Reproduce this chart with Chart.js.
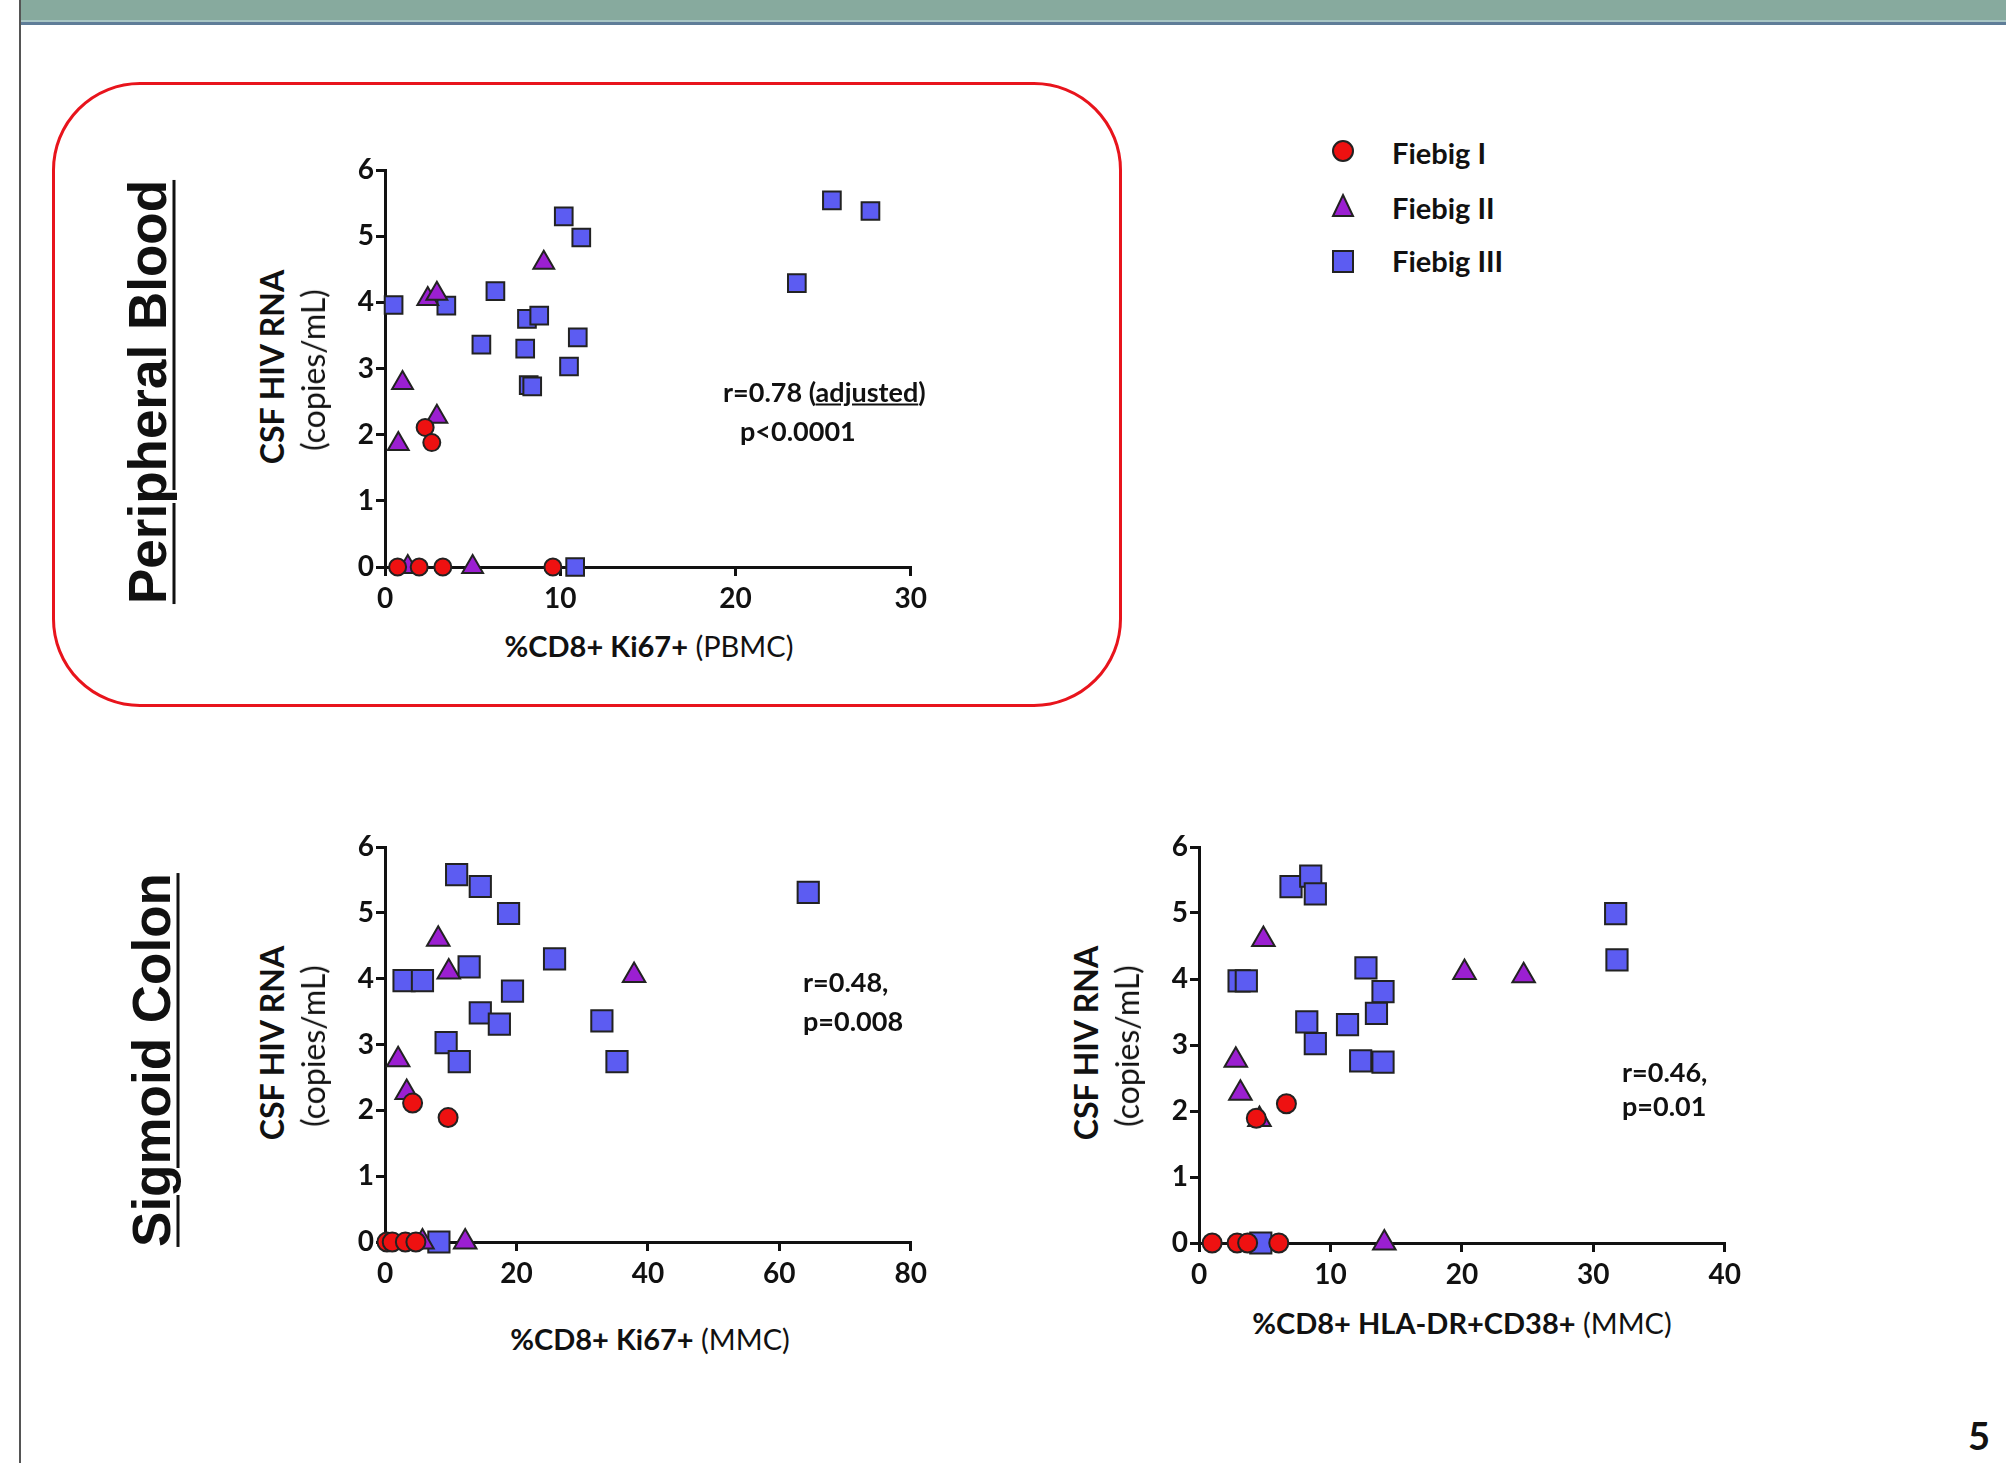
<!DOCTYPE html>
<html>
<head>
<meta charset="utf-8">
<script src="https://cdn.jsdelivr.net/npm/chart.js@4.4.0/dist/chart.umd.min.js"></script>
<style>
  html, body { margin: 0; padding: 0; background: #fff; }
  body { width: 2006px; height: 1463px; position: relative; overflow: hidden; font-family: Lato, 'Open Sans', sans-serif; color: #111; }
  .abs { position: absolute; white-space: nowrap; line-height: 1; }
  .ctr { transform: translate(-50%, -50%); }
  .rot { transform: translate(-50%, -50%) rotate(-90deg); }
  .left { transform: translateY(-50%); }
  canvas { position: absolute; }
  #header { position: absolute; left: 20px; top: 0; width: 1986px; height: 20px; background: #87aa9e; }
  #header2 { position: absolute; left: 20px; top: 20px; width: 1986px; height: 2px; background: #a8c6c4; }
  #header3 { position: absolute; left: 20px; top: 22px; width: 1986px; height: 3px; background: #5f7d98; }
  #border { position: absolute; left: 19px; top: 0; width: 2px; height: 1463px; background: #555; }
  #redbox { position: absolute; left: 52px; top: 82px; width: 1064px; height: 619px; border: 3px solid #e8141c; border-radius: 88px; }
  .section { font-family: 'Liberation Sans', Arial, sans-serif; font-weight: bold; font-size: 53px; text-decoration: underline; text-underline-offset: 7px; text-decoration-thickness: 3px; }
  .ytitle { font-size: 32px; font-weight: bold; }
  .ycopies { font-size: 32px; font-weight: normal; }
  .xtitle { font-size: 29px; }
  .note { font-size: 27px; font-weight: bold; }
  .leg { font-size: 29px; font-weight: bold; }
</style>
</head>
<body>
<div id="header"></div>
<div id="header2"></div>
<div id="header3"></div>
<div id="border"></div>
<div id="redbox"></div>

<div class="abs rot section" style="left:147px; top:392px;">Peripheral Blood</div>
<div class="abs rot section" style="left:151px; top:1060px;">Sigmoid Colon</div>

<canvas id="cPB" width="608" height="462" style="left:325px; top:150px;"></canvas>
<canvas id="cKi" width="608" height="460" style="left:325px; top:827px;"></canvas>
<canvas id="cHla" width="608" height="461" style="left:1139px; top:827px;"></canvas>

<!-- axis titles -->
<div class="abs rot ytitle" style="left:272px; top:367px;">CSF HIV RNA</div>
<div class="abs rot ycopies" style="left:313px; top:370px;">(copies/mL)</div>
<div class="abs ctr xtitle" style="left:649px; top:645px;"><b>%CD8+ Ki67+</b> (PBMC)</div>

<div class="abs rot ytitle" style="left:272px; top:1043px;">CSF HIV RNA</div>
<div class="abs rot ycopies" style="left:313px; top:1046px;">(copies/mL)</div>
<div class="abs ctr xtitle" style="left:650px; top:1338px;"><b>%CD8+ Ki67+</b> (MMC)</div>

<div class="abs rot ytitle" style="left:1086px; top:1043px;">CSF HIV RNA</div>
<div class="abs rot ycopies" style="left:1127px; top:1046px;">(copies/mL)</div>
<div class="abs ctr xtitle" style="left:1462px; top:1322px;"><b>%CD8+ HLA-DR+CD38+</b> (MMC)</div>

<!-- stats -->
<div class="abs left note" style="left:723px; top:391px;">r=0.78 (<u>adjusted</u>)</div>
<div class="abs left note" style="left:740px; top:430px;">p&lt;0.0001</div>
<div class="abs left note" style="left:803px; top:981px;">r=0.48,</div>
<div class="abs left note" style="left:803px; top:1020px;">p=0.008</div>
<div class="abs left note" style="left:1622px; top:1071px;">r=0.46,</div>
<div class="abs left note" style="left:1622px; top:1105px;">p=0.01</div>

<!-- legend -->
<svg class="abs" style="left:1323px; top:131px;" width="40" height="150">
  <circle cx="20" cy="20" r="10" fill="#ee1111" stroke="#222" stroke-width="2"/>
  <polygon points="20,64 30,85 10,85" fill="#9b1fd1" stroke="#222" stroke-width="2"/>
  <rect x="10" y="120" width="20" height="21" fill="#5c5cf2" stroke="#222" stroke-width="2"/>
</svg>
<div class="abs left leg" style="left:1392px; top:152px;">Fiebig I</div>
<div class="abs left leg" style="left:1392px; top:207px;">Fiebig II</div>
<div class="abs left leg" style="left:1392px; top:260px;">Fiebig III</div>

<div class="abs ctr" style="left:1979px; top:1435px; font-size:38px; font-weight:bold;">5</div>

<script>
// tick labels
const yTicks = [0, 1, 2, 3, 4, 5, 6];
const pbXTicks = [0, 10, 20, 30];
const kiXTicks = [0, 20, 40, 60, 80];
const hlaXTicks = [0, 10, 20, 30, 40];

const groups = ['Fiebig I', 'Fiebig II', 'Fiebig III'];

// %CD8+ Ki67+ (PBMC) vs CSF HIV RNA, [x, y]
const pbFiebigI = [[0.72, 0], [1.95, 0], [3.3, 0], [9.58, 0], [2.29, 2.11], [2.67, 1.88]];
const pbFiebigII = [[0.76, 1.86], [1.0, 2.78], [2.44, 4.05], [2.96, 4.13], [2.96, 2.27], [9.06, 4.6], [5.0, 0], [1.3, 0]];
const pbFiebigIII = [[0.49, 3.96], [3.5, 3.95], [6.3, 4.17], [5.5, 3.36], [8.0, 3.3], [8.1, 3.75], [8.8, 3.8],
  [8.2, 2.75], [8.4, 2.73], [10.2, 5.3], [11.2, 4.98], [11.0, 3.47], [10.5, 3.03], [10.85, 0],
  [23.5, 4.29], [25.5, 5.54], [27.7, 5.38]];

// %CD8+ Ki67+ (MMC)
const kiFiebigI = [[4.2, 2.11], [9.6, 1.89], [0.3, 0], [1.1, 0], [3.1, 0], [4.7, 0]];
const kiFiebigII = [[8.1, 4.6], [9.7, 4.1], [37.9, 4.05], [2.0, 2.77], [3.3, 2.27], [5.7, 0], [12.2, 0]];
const kiFiebigIII = [[10.9, 5.58], [14.5, 5.4], [18.8, 4.99], [64.4, 5.31], [25.8, 4.3], [12.8, 4.18],
  [2.9, 3.97], [5.7, 3.97], [19.4, 3.81], [14.5, 3.48], [17.4, 3.31], [33.0, 3.36], [9.3, 3.03],
  [11.3, 2.74], [35.3, 2.74], [8.2, 0]];

// %CD8+ HLA-DR+CD38+ (MMC)
const hlaFiebigI = [[6.65, 2.11], [4.36, 1.89], [1.0, 0], [2.9, 0], [3.7, 0], [6.07, 0]];
const hlaFiebigII = [[4.9, 4.6], [20.2, 4.1], [24.7, 4.05], [2.8, 2.77], [3.15, 2.27], [4.6, 1.87], [14.1, 0]];
const hlaFiebigIII = [[7.0, 5.4], [8.5, 5.56], [8.85, 5.29], [31.7, 4.99], [31.8, 4.29], [12.7, 4.17],
  [3.05, 3.97], [3.6, 3.97], [14.0, 3.81], [13.5, 3.48], [8.2, 3.35], [11.3, 3.31], [8.85, 3.02],
  [12.3, 2.76], [14.0, 2.74], [4.7, 0]];

const fills = ['#ee1111', '#9b1fd1', '#5c5cf2'];
const shapes = ['circle', 'triangle', 'rect'];

Chart.defaults.font.family = 'Lato';
Chart.defaults.font.weight = 'bold';
Chart.defaults.font.size = 28;
Chart.defaults.color = '#111';

const toPts = arr => arr.map(p => ({x: p[0], y: p[1]}));

function axis(ticksArr, max, pad, fitFn) {
  return {
    type: 'linear', min: 0, max: max,
    afterBuildTicks: s => { s.ticks = ticksArr.map(v => ({value: v})); },
    afterFit: fitFn,
    grid: {display: true, drawOnChartArea: false, drawTicks: true, tickLength: 9, color: '#111', lineWidth: 3},
    border: {display: true, color: '#111', width: 3},
    ticks: {padding: pad, color: '#111', font: {size: 28, weight: 'bold'}}
  };
}

function makeChart(id, sets, xTicks, xMax, radii) {
  new Chart(document.getElementById(id), {
    type: 'scatter',
    data: {
      datasets: sets.map((s, i) => ({
        label: groups[i],
        data: toPts(s),
        pointStyle: shapes[i],
        pointRadius: radii[i],
        backgroundColor: fills[i],
        borderColor: '#222',
        borderWidth: 2,
        clip: false
      }))
    },
    options: {
      responsive: false,
      animation: false,
      devicePixelRatio: 1,
      layout: {padding: {top: 20, right: 20, left: 0, bottom: 0}},
      plugins: {legend: {display: false}, tooltip: {enabled: false}},
      scales: {
        x: axis(xTicks, xMax, 6, s => { s.height = 45; }),
        y: axis(yTicks, 6, 2, s => { s.width = 60; })
      }
    }
  });
}

makeChart('cPB', [pbFiebigI, pbFiebigII, pbFiebigIII], pbXTicks, 30, [8.5, 12, 12.5]);
makeChart('cKi', [kiFiebigI, kiFiebigII, kiFiebigIII], kiXTicks, 80, [9.5, 13, 15]);
makeChart('cHla', [hlaFiebigI, hlaFiebigII, hlaFiebigIII], hlaXTicks, 40, [9.5, 13, 15]);
</script>
</body>
</html>
